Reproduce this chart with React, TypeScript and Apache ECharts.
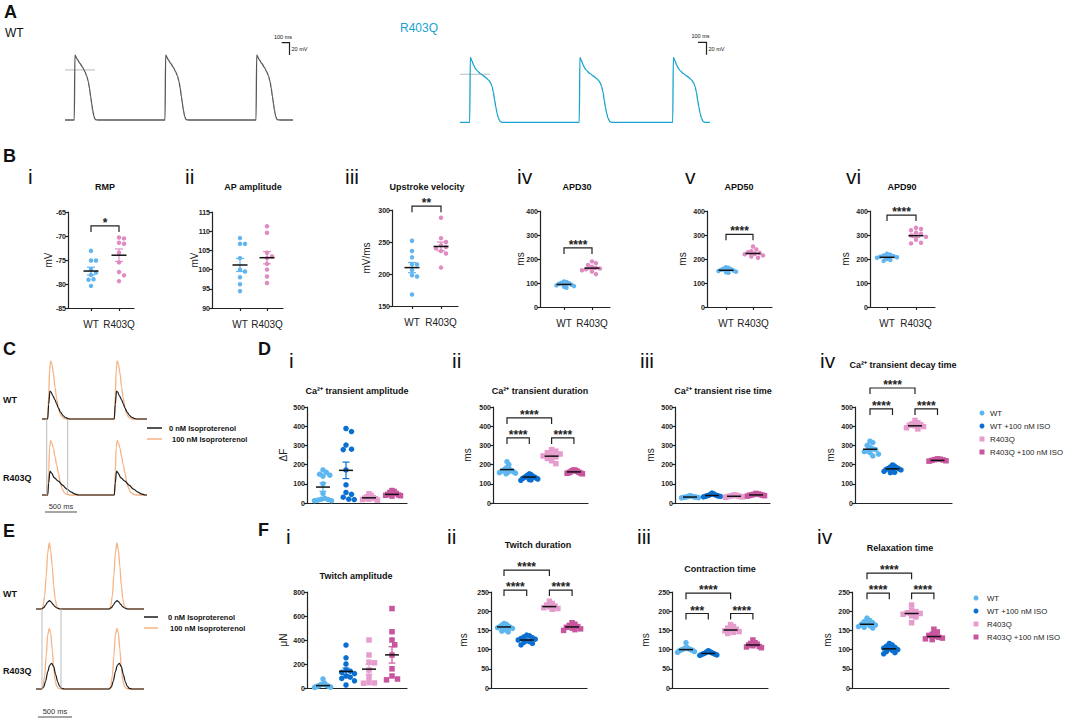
import React, { useEffect, useRef } from "react";
import * as echarts from "echarts";

const FONT = "'Liberation Sans', Arial, Helvetica, sans-serif";

// ---------- colours ----------
const COL_WT = "#5db6ef";
const COL_ISO = "#0b6fd2";
const COL_R = "#e69ccd";
const COL_RISO = "#c8559d";
const COL_B_WT = "#62b5f0";
const COL_B_R = "#e08cc3";
const COL_A_WT = "#585858";
const COL_A_R = "#19a3cf";
const COL_ORANGE = "#f6b384";
const COL_BLACK = "#1b1b1b";

// ---------- Panel A: action potentials (ms, mV) ----------
const A_WT_T = [0, 8, 40, 71, 105, 134, 155, 175, 190, 205, 218, 230, 245, 259, 275, 300];
const A_WT_V = [-77, 23, 16, 10, 4, -3, -9, -18, -28, -41, -52, -62, -71, -75.5, -76.8, -77];
const A_WT_ONSETS = [116, 1250, 2388];
const A_WT_END = 2850;
const A_R_T = [0, 8, 30, 50, 70, 92, 130, 175, 210, 237, 260, 280, 297, 312, 328, 342, 360, 383, 410];
const A_R_V = [-74, 26, 20, 14, 9, 5.5, 1.5, -2.7, -6, -9, -13, -19, -28, -40, -51, -60, -68, -73, -74];
const A_R_ONSETS = [121, 1491, 2659];
const A_R_END = 3125;
const A_ZERO_LINE = [0, 375];

// ---------- Panel C: Ca2+ transients (ms, a.u.) ----------
const C_WT_ISO_T = [0, 15, 30, 47, 65, 90, 114, 140, 166, 190, 219, 250, 280];
const C_WT_ISO_V = [0, 40, 85, 100, 95, 78, 55, 35, 21, 10, 4, 1, 0];
const C_WT_CTL_T = [0, 15, 35, 55, 80, 114, 140, 166, 200, 240, 270, 310, 350];
const C_WT_CTL_V = [0, 25, 48, 46, 40, 33, 26, 19, 12, 6, 3, 1, 0];
const C_R_ISO_T = [0, 15, 30, 47, 65, 90, 114, 140, 166, 200, 228, 260, 300, 340];
const C_R_ISO_V = [0, 40, 82, 94, 90, 80, 66, 52, 38, 20, 10, 4, 1, 0];
const C_R_CTL_T = [0, 15, 35, 60, 100, 166, 230, 300, 370, 420, 480];
const C_R_CTL_V = [0, 20, 41, 38, 30, 24, 17, 10, 5, 2, 0];
const C_ONSETS = [89, 1129];
const C_END = 1640;

// ---------- Panel E: twitches (ms, a.u.) ----------
const E_ISO_T = [0, 22, 45, 68, 90, 114, 135, 158, 180, 203, 225, 255, 285];
const E_WT_ISO_V = [0, 5, 20, 50, 85, 100, 90, 65, 35, 15, 5, 1, 0];
const E_R_ISO_V = [0, 5, 20, 50, 82, 92, 85, 60, 32, 13, 4, 1, 0];
const E_WT_CTL_T = [0, 30, 60, 90, 115, 140, 170, 200, 230, 270];
const E_WT_CTL_V = [0, 2, 6, 10.5, 12.6, 11, 7, 3.5, 1.5, 0];
const E_R_CTL_T = [0, 30, 60, 90, 120, 150, 180, 210, 240, 270, 300, 340];
const E_R_CTL_V = [0, 3, 12, 26, 36, 39, 34, 22, 11, 4, 1, 0];
const E_ONSETS = [85, 1100];
const E_END = 1620;

// ---------- Panel B ----------
const B_LABELS = ["WT", "R403Q"];
const B1_WT = [-73.1, -75.1, -75.1, -76.9, -77.6, -78.1, -79.0, -79.1, -80.4];
const B1_R = [-70.3, -70.5, -71.4, -71.6, -73.5, -75.5, -77.5, -78.2, -79.4];
const B1_MEAN = [-77.3, -74.0];
const B1_SEM = [0.8, 1.3];
const B2_WT = [108.2, 106.7, 106.7, 103.0, 100.0, 99.5, 98.0, 96.2, 94.4];
const B2_R = [111.3, 109.6, 104.4, 103.4, 103.0, 101.5, 100.0, 98.2, 96.5];
const B2_MEAN = [101.2, 103.1];
const B2_SEM = [1.7, 1.6];
const B3_WT = [252, 236, 226, 215, 215, 206, 198, 196, 168];
const B3_R = [288, 256, 250, 245, 242, 240, 236, 232, 210];
const B3_MEAN = [210, 243];
const B3_SEM = [8, 7];
const B4_WT = [106, 104, 101, 99, 97, 93, 90, 87, 84, 80];
const B4_R = [190, 183, 175, 168, 163, 160, 157, 153, 148, 137];
const B4_MEAN = [94, 162];
const B4_SEM = [3, 5];
const B5_WT = [166, 163, 160, 158, 155, 152, 150, 147, 145, 143];
const B5_R = [252, 240, 233, 228, 225, 222, 220, 215, 210, 205];
const B5_MEAN = [153, 223];
const B5_SEM = [3, 5];
const B6_WT = [222, 218, 215, 212, 210, 207, 205, 200, 196, 192];
const B6_R = [330, 325, 320, 310, 305, 298, 292, 280, 268, 265];
const B6_MEAN = [207, 297];
const B6_SEM = [3, 7];

// ---------- Panel D ----------
const GROUP_NAMES = ["WT", "WT +100 nM ISO", "R403Q", "R403Q +100 nM ISO"];
const D1_WT = [172, 160, 150, 145, 140, 100, 50, 25, 20, 18, 15, 12, 12];
const D1_ISO = [388, 372, 302, 280, 278, 172, 95, 55, 45, 30, 20, 18];
const D1_R = [48, 40, 32, 28, 25, 22, 20, 18, 15];
const D1_RISO = [65, 60, 55, 50, 45, 42, 40, 38, 36];
const D1_MEAN = [83, 170, 27, 45];
const D1_SEM = [22, 43, 5, 4];
const D2_WT = [215, 200, 185, 178, 175, 170, 168, 165, 162, 160, 158, 155, 152];
const D2_ISO = [152, 148, 145, 140, 138, 135, 132, 130, 128, 125, 122, 120, 118];
const D2_R = [278, 270, 262, 255, 250, 245, 240, 232, 220, 205];
const D2_RISO = [172, 170, 168, 165, 162, 160, 158, 156, 155, 152];
const D2_MEAN = [174, 135, 244, 162];
const D2_SEM = [5, 3, 8, 2];
const D3_WT = [38, 36, 34, 33, 32, 31, 30, 30, 29, 28, 27];
const D3_ISO = [52, 48, 45, 42, 40, 38, 37, 36, 35, 34, 32];
const D3_R = [42, 40, 38, 36, 35, 34, 33, 32, 30];
const D3_RISO = [50, 47, 45, 44, 42, 41, 40, 38, 36];
const D3_MEAN = [31, 39, 35, 42];
const D3_SEM = [1, 2, 1, 1];
const D4_WT = [322, 315, 300, 290, 282, 278, 272, 268, 262, 255, 245];
const D4_ISO = [198, 192, 188, 184, 180, 178, 175, 172, 168, 165, 160, 158];
const D4_R = [430, 418, 412, 408, 405, 402, 398, 392, 386];
const D4_RISO = [230, 228, 226, 224, 222, 220, 218];
const D4_MEAN = [280, 178, 402, 222];
const D4_SEM = [7, 3, 5, 2];

// ---------- Panel F ----------
const F1_WT = [75, 40, 32, 28, 24, 20, 18, 15, 12, 10, 8, 5];
const F1_ISO = [358, 252, 200, 150, 140, 130, 120, 100, 90, 80, 60, 25];
const F1_R = [400, 275, 215, 210, 150, 90, 45, 42, 40];
const F1_RISO = [662, 469, 400, 360, 275, 160, 100, 75, 68];
const F1_MEAN = [20, 138, 157, 276];
const F1_SEM = [6, 28, 42, 68];
const F2_WT = [168, 166, 164, 162, 160, 158, 157, 155, 153, 151, 148, 146];
const F2_ISO = [138, 136, 133, 131, 129, 127, 125, 123, 121, 119, 116, 112];
const F2_R = [226, 220, 216, 213, 211, 209, 207, 205];
const F2_RISO = [170, 166, 163, 160, 158, 156, 154, 152, 150];
const F2_MEAN = [159, 125, 212, 159];
const F2_SEM = [2, 2, 2, 2];
const F3_WT = [118, 106, 104, 102, 101, 100, 99, 98, 97, 95, 93];
const F3_ISO = [97, 95, 94, 92, 91, 90, 89, 88, 87, 86, 85];
const F3_R = [165, 160, 156, 153, 151, 149, 147, 145, 142];
const F3_RISO = [125, 118, 116, 114, 112, 110, 108, 107, 105];
const F3_MEAN = [100, 90, 151, 112];
const F3_SEM = [2, 1, 2, 2];
const F4_WT = [182, 176, 173, 170, 168, 166, 164, 162, 160, 158, 156];
const F4_ISO = [116, 112, 109, 106, 104, 102, 100, 98, 95, 92, 89];
const F4_R = [216, 202, 199, 196, 194, 192, 188, 185, 170];
const F4_RISO = [153, 146, 140, 137, 134, 132, 130, 128, 126];
const F4_MEAN = [166, 102, 194, 134];
const F4_SEM = [2, 2, 4, 3];

// ---------- helpers ----------
function beatTrace(T: number[], V: number[], onsets: number[], end: number): number[][] {
  const base = V[V.length - 1];
  const pts: number[][] = [[0, base]];
  onsets.forEach((o) => T.forEach((t, i) => pts.push([o + t, V[i]])));
  pts.push([end, base]);
  return pts;
}

// beeswarm layout (pixel offsets), compressed to a maximum half-width
function swarm(values: number[], pxPerUnit: number, d: number, maxHalf: number): number[] {
  const idx = values.map((_, i) => i).sort((a, b) => values[b] - values[a]);
  const placed: number[][] = [];
  const out = new Array(values.length).fill(0);
  for (const i of idx) {
    const y = values[i] * pxPerUnit;
    let x = 0;
    for (let k = 0; k < 80; k++) {
      const cand = k === 0 ? 0 : (k % 2 ? 1 : -1) * Math.ceil(k / 2) * d * 0.5;
      if (placed.every(([px, py]) => (px - cand) ** 2 + (py - y) ** 2 >= d * d * 0.92)) {
        x = cand;
        break;
      }
    }
    placed.push([x, y]);
    out[i] = x;
  }
  const m = Math.max(...out.map((o) => Math.abs(o)));
  if (m > maxHalf) return out.map((o) => (o * maxHalf) / m);
  return out;
}

type Grp = { v: number[]; color: string; symbol: string };
type Stat = {
  L: number; R: number; top: number; bottom: number; p1: number; step: number;
  ymin: number; ymax: number; interval: number;
  groups: Grp[]; means: number[]; sems: number[];
  brackets: [number, number, number, string][];
  xLabels: string[] | null; size: number; gap: number; maxHalf: number; meanHalf: number; capHalf: number;
};

function buildOption() {
  const grid: any[] = [];
  const xAxis: any[] = [];
  const yAxis: any[] = [];
  const series: any[] = [];
  const graphic: any[] = [];
  const axLine = { color: "#222", width: 1.2 };

  const txt = (x: number, y: number, text: string, size: number, weight = "normal", color = "#111", align = "left", rot = 0) => {
    graphic.push({
      type: "text", x, y, rotation: rot, silent: true, z: 10,
      style: { text, fontSize: size, fontWeight: weight, fontFamily: FONT, fill: color, align, verticalAlign: "middle" },
    });
  };
  const poly = (points: number[][], color = "#222", w = 1) => {
    graphic.push({ type: "polyline", silent: true, z: 10, shape: { points }, style: { stroke: color, lineWidth: w, fill: null } });
  };

  const addTrace = (left: number, top: number, width: number, height: number, xmax: number, ymin: number, ymax: number,
    lines: { data: number[][]; color: string; width: number; smooth: number; z?: number }[]) => {
    const gi = grid.length;
    grid.push({ left, top, width, height });
    xAxis.push({ gridIndex: gi, type: "value", min: 0, max: xmax, show: false });
    yAxis.push({ gridIndex: gi, type: "value", min: ymin, max: ymax, show: false });
    lines.forEach((l) => series.push({
      type: "line", xAxisIndex: gi, yAxisIndex: gi, data: l.data, symbol: "none", showSymbol: false,
      smooth: l.smooth, smoothMonotone: "x", clip: false, silent: true, z: l.z ?? 2,
      lineStyle: { color: l.color, width: l.width },
    }));
  };

  const addStat = (p: Stat) => {
    const gi = grid.length;
    grid.push({ left: p.L, top: p.top, width: p.R - p.L, height: p.bottom - p.top });
    const xmin = 1 - (p.p1 - p.L) / p.step;
    const xmax = 1 + (p.R - p.p1) / p.step;
    const lbl = p.xLabels;
    xAxis.push({
      gridIndex: gi, type: "value", min: xmin, max: xmax,
      axisLine: { show: true, onZero: false, lineStyle: axLine },
      axisTick: lbl ? { show: true, customValues: [1, 2], length: 3, lineStyle: axLine } : { show: false },
      axisLabel: lbl ? {
        show: true, customValues: [1, 2], formatter: (v: number) => lbl[Math.round(v) - 1] ?? "",
        fontSize: 10, fontFamily: FONT, color: "#222", margin: 11,
      } : { show: false },
      splitLine: { show: false },
    });
    yAxis.push({
      gridIndex: gi, type: "value", min: p.ymin, max: p.ymax, interval: p.interval,
      axisLine: { show: true, onZero: false, lineStyle: axLine },
      axisTick: { show: true, length: 3, lineStyle: axLine },
      axisLabel: { fontSize: 7, fontWeight: "bold", fontFamily: FONT, color: "#222", margin: 2 },
      splitLine: { show: false },
    });
    const pxPerUnit = (p.bottom - p.top) / (p.ymax - p.ymin);
    p.groups.forEach((g, gIdx) => {
      const offs = swarm(g.v, pxPerUnit, p.gap, p.maxHalf);
      series.push({
        type: "scatter", xAxisIndex: gi, yAxisIndex: gi, symbol: g.symbol, symbolSize: p.size, silent: true, z: 2,
        itemStyle: { color: g.color, opacity: 1 },
        data: g.v.map((v, i) => [gIdx + 1 + offs[i] / p.step, v]),
      });
    });
    series.push({
      type: "custom", xAxisIndex: gi, yAxisIndex: gi, clip: false, silent: true, z: 5,
      data: p.means.map((m, i) => [i + 1, m, p.sems[i]]),
      renderItem: (params: any, api: any) => {
        const x = api.value(0), m = api.value(1), s = api.value(2);
        const c = api.coord([x, m]);
        const hi = api.coord([x, m + s]);
        const lo = api.coord([x, m - s]);
        const color = p.groups[params.dataIndex].color;
        const st = { stroke: color, lineWidth: 1.2 };
        return {
          type: "group",
          children: [
            { type: "line", shape: { x1: c[0], y1: hi[1], x2: c[0], y2: lo[1] }, style: st },
            { type: "line", shape: { x1: c[0] - p.capHalf, y1: hi[1], x2: c[0] + p.capHalf, y2: hi[1] }, style: st },
            { type: "line", shape: { x1: c[0] - p.capHalf, y1: lo[1], x2: c[0] + p.capHalf, y2: lo[1] }, style: st },
            { type: "line", shape: { x1: c[0] - p.meanHalf, y1: c[1], x2: c[0] + p.meanHalf, y2: c[1] }, style: { stroke: "#111", lineWidth: 1.5 } },
          ],
        };
      },
    });
    if (p.brackets.length) {
      series.push({
        type: "custom", xAxisIndex: gi, yAxisIndex: gi, clip: false, silent: true, z: 6,
        data: p.brackets.map((b) => [b[0], b[2], b[1]]),
        renderItem: (params: any, api: any) => {
          const a = api.coord([api.value(0), api.value(1)]);
          const b = api.coord([api.value(2), api.value(1)]);
          const label = p.brackets[params.dataIndex][3];
          return {
            type: "group",
            children: [
              { type: "polyline", shape: { points: [[a[0], a[1] + 6], [a[0], a[1]], [b[0], b[1]], [b[0], b[1] + 6]] }, style: { stroke: "#222", lineWidth: 1.2, fill: null } },
              { type: "text", x: (a[0] + b[0]) / 2, y: a[1] + 3, style: { text: label, fontSize: 12, fontWeight: "bold", fontFamily: FONT, fill: "#222", align: "center", verticalAlign: "bottom" } },
            ],
          };
        },
      });
    }
  };

  // ===== Panel A =====
  txt(4, 12, "A", 18, "bold");
  txt(5, 33, "WT", 12);
  txt(400, 28, "R403Q", 12, "normal", COL_A_R);
  addTrace(65, 47.2, 228, 78, A_WT_END, -85, 35, [
    { data: [[A_ZERO_LINE[0], 0], [A_ZERO_LINE[1], 0]], color: "#aaaaaa", width: 0.8, smooth: 0, z: 1 },
    { data: beatTrace(A_WT_T, A_WT_V, A_WT_ONSETS, A_WT_END), color: COL_A_WT, width: 1.3, smooth: 0.25 },
  ]);
  addTrace(460, 51.5, 250, 78, A_R_END, -85, 35, [
    { data: [[A_ZERO_LINE[0], 0], [A_ZERO_LINE[1], 0]], color: "#aaaaaa", width: 0.8, smooth: 0, z: 1 },
    { data: beatTrace(A_R_T, A_R_V, A_R_ONSETS, A_R_END), color: COL_A_R, width: 1.3, smooth: 0.25 },
  ]);
  txt(274, 37, "100 ms", 5.5);
  poly([[281.7, 42.7], [289.5, 42.7], [289.5, 55]], "#222", 1.2);
  txt(291.5, 49, "20 mV", 5.5);
  txt(691.5, 36, "100 ms", 5.5);
  poly([[698, 42.3], [706.5, 42.3], [706.5, 54.7]], "#222", 1.2);
  txt(708.5, 49, "20 mV", 5.5);

  // ===== Panel B =====
  txt(3, 156, "B", 18, "bold");
  const BS = { xLabels: B_LABELS, size: 4.5, gap: 5, maxHalf: 10, meanHalf: 7.5, capHalf: 4 };
  const bStats: { num: string; numX: number; title: string; titleX: number; yName: string; nameX: number; s: Stat }[] = [
    { num: "i", numX: 28, title: "RMP", titleX: 105, yName: "mV", nameX: 48, s: { L: 68, R: 134, top: 212, bottom: 308, p1: 91, step: 28, ymin: -85, ymax: -65, interval: 5, groups: [{ v: B1_WT, color: COL_B_WT, symbol: "circle" }, { v: B1_R, color: COL_B_R, symbol: "circle" }], means: B1_MEAN, sems: B1_SEM, brackets: [[1, 2, -67.9, "*"]], ...BS } },
    { num: "ii", numX: 185, title: "AP amplitude", titleX: 253, yName: "mV", nameX: 194, s: { L: 212, R: 283, top: 212, bottom: 308, p1: 240, step: 27, ymin: 90, ymax: 115, interval: 5, groups: [{ v: B2_WT, color: COL_B_WT, symbol: "circle" }, { v: B2_R, color: COL_B_R, symbol: "circle" }], means: B2_MEAN, sems: B2_SEM, brackets: [], ...BS } },
    { num: "iii", numX: 345, title: "Upstroke velocity", titleX: 427, yName: "mV/ms", nameX: 366, s: { L: 392, R: 458, top: 210, bottom: 306, p1: 412, step: 29, ymin: 150, ymax: 300, interval: 50, groups: [{ v: B3_WT, color: COL_B_WT, symbol: "circle" }, { v: B3_R, color: COL_B_R, symbol: "circle" }], means: B3_MEAN, sems: B3_SEM, brackets: [[1, 2, 306, "**"]], ...BS } },
    { num: "iv", numX: 517, title: "APD30", titleX: 577, yName: "ms", nameX: 520, s: { L: 540, R: 610, top: 211, bottom: 307, p1: 564, step: 28, ymin: 0, ymax: 400, interval: 100, groups: [{ v: B4_WT, color: COL_B_WT, symbol: "circle" }, { v: B4_R, color: COL_B_R, symbol: "circle" }], means: B4_MEAN, sems: B4_SEM, brackets: [[1, 2, 246, "****"]], ...BS } },
    { num: "v", numX: 685, title: "APD50", titleX: 739, yName: "ms", nameX: 682, s: { L: 707, R: 772, top: 211, bottom: 307, p1: 726, step: 27, ymin: 0, ymax: 400, interval: 100, groups: [{ v: B5_WT, color: COL_B_WT, symbol: "circle" }, { v: B5_R, color: COL_B_R, symbol: "circle" }], means: B5_MEAN, sems: B5_SEM, brackets: [[1, 2, 303, "****"]], ...BS } },
    { num: "vi", numX: 846, title: "APD90", titleX: 902, yName: "ms", nameX: 845, s: { L: 870, R: 935, top: 211, bottom: 307, p1: 887, step: 29, ymin: 0, ymax: 400, interval: 100, groups: [{ v: B6_WT, color: COL_B_WT, symbol: "circle" }, { v: B6_R, color: COL_B_R, symbol: "circle" }], means: B6_MEAN, sems: B6_SEM, brackets: [[1, 2, 383, "****"]], ...BS } },
  ];
  bStats.forEach((b) => {
    txt(b.numX, 176, b.num, 21);
    txt(b.titleX, 187, b.title, 9, "bold", "#111", "center");
    txt(b.nameX, (b.s.top + b.s.bottom) / 2, b.yName, 10, "normal", "#222", "center", Math.PI / 2);
    addStat(b.s);
  });

  // ===== Panel C =====
  txt(3, 349, "C", 18, "bold");
  txt(3, 400, "WT", 9, "bold");
  txt(3, 478, "R403Q", 9, "bold");
  addTrace(42, 355.2, 105, 63.8, C_END, 0, 110, [
    { data: beatTrace(C_WT_ISO_T, C_WT_ISO_V, C_ONSETS, C_END), color: COL_ORANGE, width: 1.3, smooth: 0.3 },
    { data: beatTrace(C_WT_CTL_T, C_WT_CTL_V, C_ONSETS, C_END), color: COL_BLACK, width: 1.2, smooth: 0.3 },
  ]);
  addTrace(42, 431.2, 105, 63.8, C_END, 0, 110, [
    { data: beatTrace(C_R_ISO_T, C_R_ISO_V, C_ONSETS, C_END), color: COL_ORANGE, width: 1.3, smooth: 0.3 },
    { data: beatTrace(C_R_CTL_T, C_R_CTL_V, C_ONSETS, C_END), color: COL_BLACK, width: 1.2, smooth: 0.3 },
  ]);
  poly([[46.7, 419], [46.7, 495]], "#bbbbbb", 1);
  poly([[67.7, 419], [67.7, 495]], "#bbbbbb", 1);
  poly([[147, 428], [162, 428]], COL_BLACK, 1.5);
  txt(169, 428, "0 nM Isoproterenol", 7.5, "bold");
  poly([[147, 439], [162, 439]], COL_ORANGE, 1.5);
  txt(172, 439, "100 nM Isoproterenol", 7.5, "bold");
  txt(61, 506, "500 ms", 7.5, "normal", "#333", "center");
  poly([[45, 512], [77, 512]], "#888888", 1.5);

  // ===== Panel E =====
  txt(3, 531, "E", 18, "bold");
  txt(3, 594, "WT", 9, "bold");
  txt(3, 671, "R403Q", 9, "bold");
  addTrace(36, 536.4, 108, 72.6, E_END, 0, 110, [
    { data: beatTrace(E_ISO_T, E_WT_ISO_V, E_ONSETS, E_END), color: COL_ORANGE, width: 1.3, smooth: 0.3 },
    { data: beatTrace(E_WT_CTL_T, E_WT_CTL_V, E_ONSETS, E_END), color: COL_BLACK, width: 1.2, smooth: 0.3 },
  ]);
  addTrace(36, 616.4, 108, 72.6, E_END, 0, 110, [
    { data: beatTrace(E_ISO_T, E_R_ISO_V, E_ONSETS, E_END), color: COL_ORANGE, width: 1.3, smooth: 0.3 },
    { data: beatTrace(E_R_CTL_T, E_R_CTL_V, E_ONSETS, E_END), color: COL_BLACK, width: 1.2, smooth: 0.3 },
  ]);
  poly([[42, 609], [42, 689]], "#bbbbbb", 1);
  poly([[61, 609], [61, 689]], "#bbbbbb", 1);
  poly([[144, 617], [158, 617]], COL_BLACK, 1.5);
  txt(168, 617, "0 nM Isoproterenol", 7.5, "bold");
  poly([[144, 628], [158, 628]], COL_ORANGE, 1.5);
  txt(170, 628, "100 nM Isoproterenol", 7.5, "bold");
  txt(55, 711, "500 ms", 7.5, "normal", "#333", "center");
  poly([[38, 717], [72, 717]], "#888888", 1.5);

  // ===== Panels D and F =====
  const grp4 = (a: number[], b: number[], c: number[], d: number[]): Grp[] => [
    { v: a, color: COL_WT, symbol: "circle" },
    { v: b, color: COL_ISO, symbol: "circle" },
    { v: c, color: COL_R, symbol: "rect" },
    { v: d, color: COL_RISO, symbol: "rect" },
  ];
  const S4 = { xLabels: null, size: 5.5, gap: 5.5, maxHalf: 8.5, meanHalf: 7, capHalf: 3.5 };
  const b3 = (y1: number, y2: number, t2 = "****"): [number, number, number, string][] => [[1, 3, y1, "****"], [1, 2, y2, t2], [3, 4, y2, "****"]];

  txt(258, 349, "D", 18, "bold");
  txt(258, 530, "F", 18, "bold");
  const dfStats: { num: string; numX: number; numY: number; title: string; titleX: number; titleY: number; yName: string; nameX: number; s: Stat }[] = [
    { num: "i", numX: 289, numY: 360, title: "Ca²⁺ transient amplitude", titleX: 357, titleY: 391, yName: "ΔF", nameX: 283, s: { L: 307, R: 407, top: 407, bottom: 503, p1: 323, step: 23, ymin: 0, ymax: 500, interval: 100, groups: grp4(D1_WT, D1_ISO, D1_R, D1_RISO), means: D1_MEAN, sems: D1_SEM, brackets: [], ...S4 } },
    { num: "ii", numX: 452, numY: 360, title: "Ca²⁺ transient duration", titleX: 540, titleY: 391, yName: "ms", nameX: 467, s: { L: 493, R: 588, top: 407, bottom: 503, p1: 507, step: 22.3, ymin: 0, ymax: 500, interval: 100, groups: grp4(D2_WT, D2_ISO, D2_R, D2_RISO), means: D2_MEAN, sems: D2_SEM, brackets: b3(443, 339), ...S4 } },
    { num: "iii", numX: 640, numY: 360, title: "Ca²⁺ transient rise time", titleX: 723, titleY: 391, yName: "ms", nameX: 650, s: { L: 675, R: 770, top: 407, bottom: 503, p1: 690, step: 22, ymin: 0, ymax: 500, interval: 100, groups: grp4(D3_WT, D3_ISO, D3_R, D3_RISO), means: D3_MEAN, sems: D3_SEM, brackets: [], ...S4 } },
    { num: "iv", numX: 820, numY: 360, title: "Ca²⁺ transient decay time", titleX: 903, titleY: 365, yName: "ms", nameX: 830, s: { L: 855, R: 952, top: 407, bottom: 503, p1: 870, step: 22.5, ymin: 0, ymax: 500, interval: 100, groups: grp4(D4_WT, D4_ISO, D4_R, D4_RISO), means: D4_MEAN, sems: D4_SEM, brackets: b3(599, 490), ...S4 } },
    { num: "i", numX: 286, numY: 536, title: "Twitch amplitude", titleX: 356, titleY: 576, yName: "μN", nameX: 283, s: { L: 307, R: 407, top: 592, bottom: 688, p1: 323, step: 23, ymin: 0, ymax: 800, interval: 200, groups: grp4(F1_WT, F1_ISO, F1_R, F1_RISO), means: F1_MEAN, sems: F1_SEM, brackets: [], ...S4 } },
    { num: "ii", numX: 447, numY: 536, title: "Twitch duration", titleX: 538, titleY: 545, yName: "ms", nameX: 463, s: { L: 491, R: 587, top: 592, bottom: 688, p1: 504, step: 22.7, ymin: 0, ymax: 250, interval: 50, groups: grp4(F2_WT, F2_ISO, F2_R, F2_RISO), means: F2_MEAN, sems: F2_SEM, brackets: b3(307, 255), ...S4 } },
    { num: "iii", numX: 637, numY: 536, title: "Contraction time", titleX: 720, titleY: 569, yName: "ms", nameX: 645, s: { L: 672, R: 768, top: 592, bottom: 688, p1: 686, step: 22.3, ymin: 0, ymax: 250, interval: 50, groups: grp4(F3_WT, F3_ISO, F3_R, F3_RISO), means: F3_MEAN, sems: F3_SEM, brackets: b3(247, 194, "***"), ...S4 } },
    { num: "iv", numX: 817, numY: 536, title: "Relaxation time", titleX: 900, titleY: 548, yName: "ms", nameX: 827, s: { L: 852, R: 949, top: 592, bottom: 688, p1: 867, step: 22.3, ymin: 0, ymax: 250, interval: 50, groups: grp4(F4_WT, F4_ISO, F4_R, F4_RISO), means: F4_MEAN, sems: F4_SEM, brackets: b3(299, 247), ...S4 } },
  ];
  dfStats.forEach((b) => {
    txt(b.numX, b.numY, b.num, 21);
    txt(b.titleX, b.titleY, b.title, 9, "bold", "#111", "center");
    txt(b.nameX, (b.s.top + b.s.bottom) / 2, b.yName, 10, "normal", "#222", "center", Math.PI / 2);
    addStat(b.s);
  });

  // legends for D and F
  const legCols = [COL_WT, COL_ISO, COL_R, COL_RISO];
  const legend = (mx: number, tx: number, ys: number[]) => {
    ys.forEach((y, i) => {
      if (i < 2) graphic.push({ type: "circle", silent: true, shape: { cx: mx, cy: y, r: 2.5 }, style: { fill: legCols[i] } });
      else graphic.push({ type: "rect", silent: true, shape: { x: mx - 2.5, y: y - 2.5, width: 5, height: 5 }, style: { fill: legCols[i] } });
      txt(tx, y, GROUP_NAMES[i], 7.8, "normal", "#222");
    });
  };
  legend(982, 990, [413, 426, 439, 452]);
  legend(976, 987, [598, 611, 624, 637]);

  return { animation: false, backgroundColor: "#ffffff", grid, xAxis, yAxis, series, graphic };
}

export default function App() {
  const ref = useRef<HTMLDivElement>(null);
  useEffect(() => {
    if (!ref.current) return;
    const chart = echarts.init(ref.current, null, { renderer: "svg", width: 1065, height: 719 });
    chart.setOption(buildOption() as any);
    return () => chart.dispose();
  }, []);
  return (
    <div
      ref={ref}
      style={{ position: "absolute", left: 0, top: 0, width: 1065, height: 719, background: "#fff" }}
    />
  );
}
